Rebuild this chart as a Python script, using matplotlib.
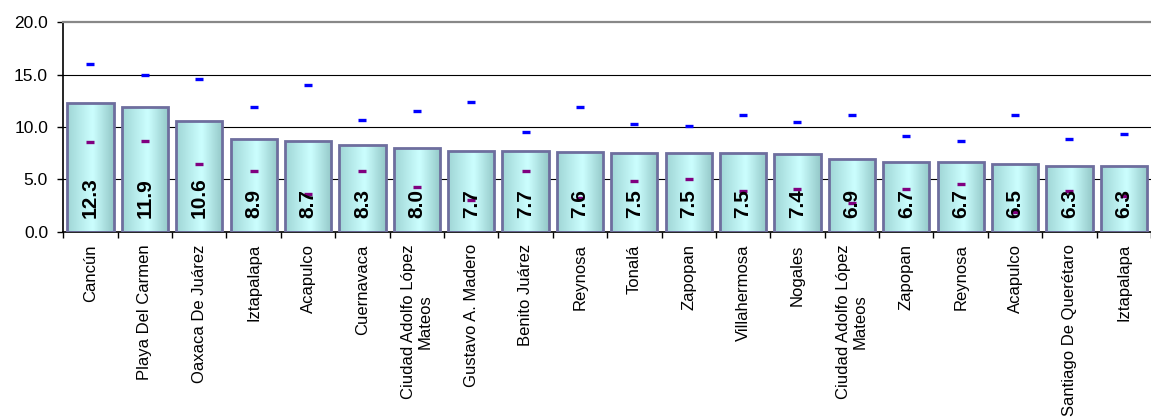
import matplotlib
matplotlib.use('Agg')
import matplotlib.pyplot as plt
import numpy as np
from matplotlib.colors import LinearSegmentedColormap
from matplotlib.ticker import FormatStrFormatter

categories = ["Cancún", "Playa Del Carmen", "Oaxaca De Juárez", "Iztapalapa", "Acapulco",
              "Cuernavaca", "Ciudad Adolfo López\nMateos", "Gustavo A. Madero", "Benito Juárez",
              "Reynosa", "Tonalá", "Zapopan", "Villahermosa", "Nogales",
              "Ciudad Adolfo López\nMateos", "Zapopan", "Reynosa", "Acapulco",
              "Santiago De Querétaro", "Iztapalapa"]
values = [12.3, 11.9, 10.6, 8.9, 8.7, 8.3, 8.0, 7.7, 7.7, 7.6,
          7.5, 7.5, 7.5, 7.4, 6.9, 6.7, 6.7, 6.5, 6.3, 6.3]
upper = [16.0, 15.0, 14.6, 11.9, 14.0, 10.7, 11.5, 12.35, 9.55, 11.9,
         10.25, 10.1, 11.1, 10.5, 11.1, 9.1, 8.7, 11.1, 8.85, 9.3]
lower = [8.6, 8.7, 6.5, 5.8, 3.6, 5.8, 4.3, 3.0, 5.8, 3.2,
         4.85, 5.0, 3.9, 4.1, 2.7, 4.1, 4.6, 1.9, 3.9, 3.4]
yticks = [0, 5, 10, 15, 20]

plt.rcParams['font.family'] = ['Liberation Sans', 'DejaVu Sans']

W, H = 1151, 417
fig = plt.figure(figsize=(W / 100, H / 100), dpi=100)
left_px, right_px, top_px, bot_px = 63.3, 1151, 22.3, 231.7
ax = fig.add_axes([left_px / W, 1 - bot_px / H, (right_px - left_px) / W, (bot_px - top_px) / H])

step = 54.85
x = np.arange(len(categories))
xmax = -0.5 + (right_px - left_px) / step

for yv in [5, 10, 15]:
    ax.axhline(yv, color='black', lw=0.8, zorder=1)

bars = ax.bar(x, values, width=0.85, facecolor='none', edgecolor='#6E6E9E', linewidth=2.0, zorder=3)

cmap = LinearSegmentedColormap.from_list('cyan_grad', [(0, '#A0D6D6'), (0.55, '#CCFFFF'), (1, '#94C8C8')])
grad = np.linspace(0, 1, 64).reshape(1, -1)
for b in bars:
    x0, w, h = b.get_x(), b.get_width(), b.get_height()
    im = ax.imshow(grad, cmap=cmap, extent=[x0, x0 + w, 0, h], aspect='auto', zorder=2.5,
                   interpolation='bicubic')
    im.set_clip_path(b)

ax.plot(x, upper, linestyle='none', marker='_', markersize=5.5, markeredgewidth=2.4,
        color='#0000FF', zorder=4)
ax.plot(x, lower, linestyle='none', marker='_', markersize=5.5, markeredgewidth=2.4,
        color='#800080', zorder=4)

for xi, v in zip(x, values):
    ax.text(xi, 1.31, f"{v:.1f}", rotation=90, ha='center', va='bottom',
            fontsize=15, fontweight='bold', color='black', zorder=5)

ax.set_xlim(-0.5, xmax)
ax.set_ylim(0, 20)
ax.set_yticks(yticks)
ax.yaxis.set_major_formatter(FormatStrFormatter('%.1f'))
ax.tick_params(axis='y', direction='out', length=4, width=1, pad=7, labelsize=12.5, colors='black')

ax.set_xticks(x)
ax.set_xticklabels(categories, rotation=90, fontsize=12, ha='center', va='top', multialignment='center')
ax.tick_params(axis='x', which='major', length=0, pad=9)
ax.set_xticks(np.arange(-0.5, len(categories) + 0.5, 1), minor=True)
ax.tick_params(axis='x', which='minor', direction='out', length=4, width=1, color='black')

ax.spines['right'].set_visible(False)
ax.spines['top'].set_color('#888888')
ax.spines['top'].set_linewidth(1.6)
ax.spines['left'].set_linewidth(1.2)
ax.spines['bottom'].set_linewidth(1.2)

fig.savefig('out.png', dpi=100)
